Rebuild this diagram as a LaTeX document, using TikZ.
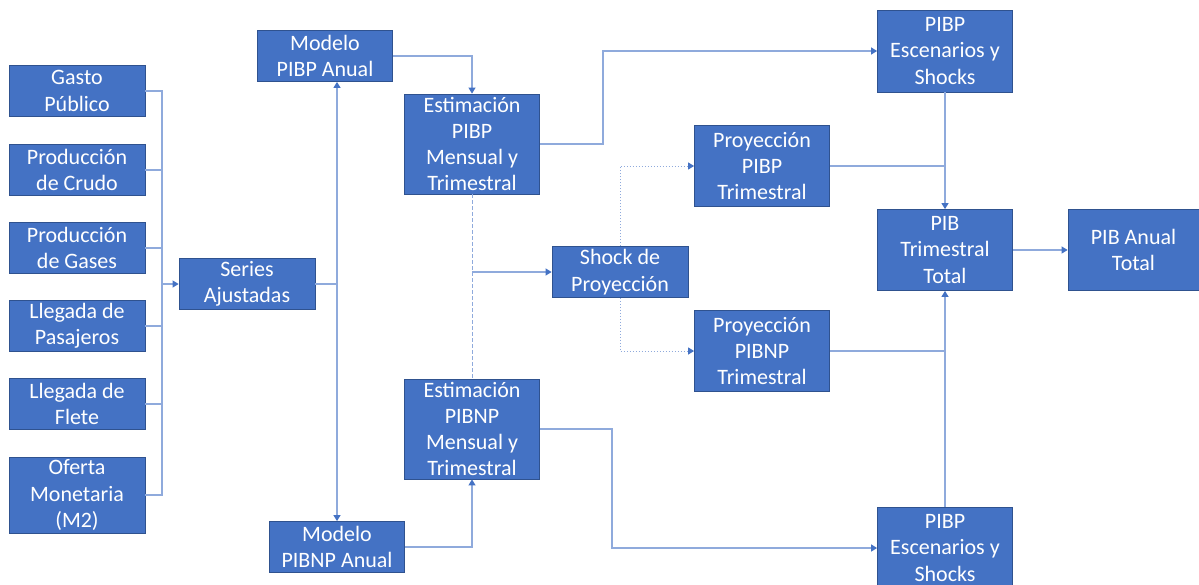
\documentclass[tikz,border=0pt]{standalone}
\usepackage{fontspec}
\setmainfont{Carlito}
\usetikzlibrary{arrows.meta}
\definecolor{boxfill}{HTML}{4472C4}
\definecolor{boxline}{HTML}{2F528F}
\definecolor{connc}{HTML}{8FAADC}
\definecolor{tipc}{HTML}{4472C4}
\begin{document}
\begin{tikzpicture}[x=1pt,y=-1pt,
 box/.style={draw=boxline, line width=0.8pt, fill=boxfill, text=white,
   minimum width=136pt, minimum height=51pt, inner sep=0pt, align=center,
   font=\fontsize{22}{26.3}\selectfont},
 conn/.style={draw=connc, line width=1.1pt},
 arr/.style={conn, -{Triangle[width=7pt,length=6pt,color=tipc]}},
 darr/.style={conn, {Triangle[width=7pt,length=6pt,color=tipc]}-{Triangle[width=7pt,length=6pt,color=tipc]}},
 dashedc/.style={conn, dashed, dash pattern=on 4pt off 2pt, line width=0.9pt},
 dottedc/.style={draw=connc, line width=1pt, dash pattern=on 1.5pt off 1.5pt, -{Triangle[width=7pt,length=6pt,color=tipc]}}]
\useasboundingbox[fill=white] (0,0) rectangle (1199,584);

% left inputs
\node[box] (gp) at (77,91) {Gasto\\Público};
\node[box] (pc) at (77,170) {Producción\\de Crudo};
\node[box] (pg) at (77,248) {Producción\\de Gases};
\node[box] (lp) at (77,326) {Llegada de\\Pasajeros};
\node[box] (lf) at (77,404) {Llegada de\\Flete};
\node[box, minimum height=76pt] (om) at (77,495) {Oferta\\Monetaria\\(M2)};

\node[box] (sa) at (247,284) {Series\\Ajustadas};

\node[box, minimum width=135pt] (mpa) at (325,56) {Modelo\\PIBP Anual};
\node[box, minimum width=135pt] (mpna) at (337,547) {Modelo\\PIBNP Anual};

\node[box, minimum width=135pt, minimum height=100pt] (epb) at (472,144) {Estimación\\PIBP\\Mensual y\\Trimestral};
\node[box, minimum width=135pt, minimum height=100pt] (epnb) at (472,429) {Estimación\\PIBNP\\Mensual y\\Trimestral};

\node[box] (sp) at (620,272) {Shock de\\Proyección};

\node[box, minimum width=135pt, minimum height=81pt] (ppt) at (762,166) {Proyección\\PIBP\\Trimestral};
\node[box, minimum width=135pt, minimum height=81pt] (pnt) at (762,351) {Proyección\\PIBNP\\Trimestral};

\node[box, minimum width=135pt, minimum height=82pt] (est) at (945,51) {PIBP\\Escenarios y\\Shocks};
\node[box, minimum width=135pt, minimum height=82pt] (esb) at (945,548) {PIBP\\Escenarios y\\Shocks};

\node[box, minimum width=135pt, minimum height=81pt] (ptt) at (945,250) {PIB\\Trimestral\\Total};
\node[box, minimum width=131pt, minimum height=81pt] (pat) at (1133.5,250) {PIB Anual\\Total};

% bus left
\coordinate (bus1) at (162,284);
\draw[conn] (gp.east) -- (gp.east -| bus1) -- (om.east -| bus1) -- (om.east);
\draw[conn] (pc.east) -- (pc.east -| bus1);
\draw[conn] (pg.east) -- (pg.east -| bus1);
\draw[conn] (lp.east) -- (lp.east -| bus1);
\draw[conn] (lf.east) -- (lf.east -| bus1);
\draw[arr] (bus1) -- (sa.west);

% series to models
\coordinate (bus2) at (337,284);
\draw[conn] (sa.east) -- (bus2);
\draw[darr] ([xshift=12pt]mpa.south) -- ([xshift=12pt]mpa.south |- mpna.north);

% models to estimations
\draw[arr] (mpa.east) -| (epb.north);
\draw[arr] (mpna.east) -| (epnb.south);

% dashed link between estimations
\draw[dashedc] (epb.south) -- (epnb.north);
\coordinate (jn) at (472,272);
\draw[arr] (jn) -- (sp.west);

% estimations to scenarios
\coordinate (k1) at (603,144);
\coordinate (k2) at (612,429);
\draw[arr] (epb.east) -- (k1) |- (est.west);
\draw[arr] (epnb.east) -- (k2) |- (esb.west);

% shock to projections
\draw[dottedc] (sp.north) |- (ppt.west);
\draw[dottedc] (sp.south) |- (pnt.west);

% to PIB trimestral
\draw[arr] (est.south) -- (ptt.north);
\draw[conn] (ppt.east) -- (ppt.east -| ptt.north);
\draw[arr] (esb.north) -- (ptt.south);
\draw[conn] (pnt.east) -- (pnt.east -| ptt.south);

\draw[arr] (ptt.east) -- (pat.west);
\end{tikzpicture}
\end{document}
